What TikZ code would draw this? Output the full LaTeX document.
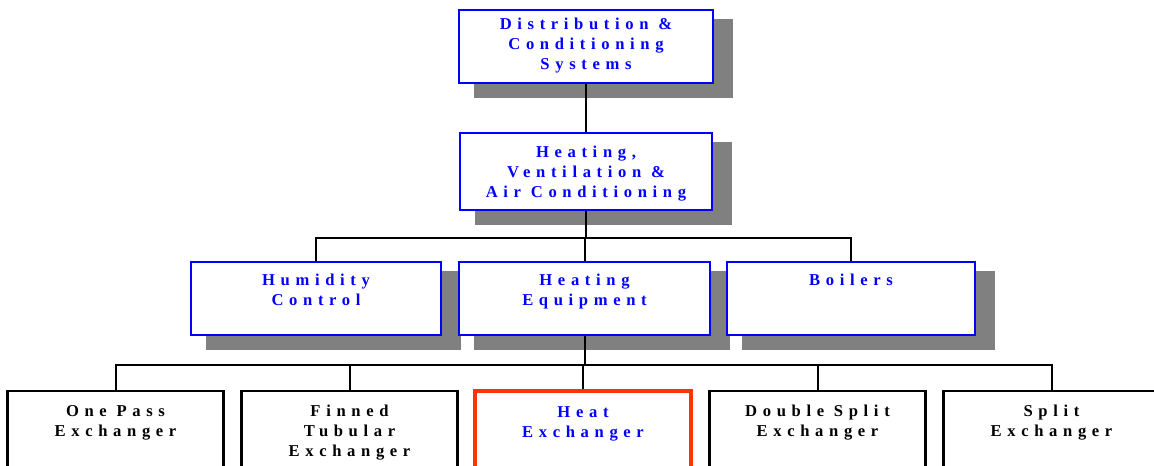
\documentclass[tikz,border=0pt]{standalone}
\usepackage{fontspec}
\setmainfont{Liberation Serif}
\newfontfamily\chartfont[LetterSpace=34]{Liberation Serif}
\usetikzlibrary{calc, positioning, backgrounds}
\definecolor{chBlue}{HTML}{0000FF}
\definecolor{chRed}{HTML}{FF3300}
\definecolor{chGrey}{HTML}{808080}
\tikzset{
  % one picture unit is one pixel of the chart, y grows downwards
  bluebox/.style  = {draw=chBlue, line width=1pt, fill=white, minimum width=#1},
  leafbox/.style  = {draw=black, line width=1.1pt, fill=white, minimum width=108pt, minimum height=50pt},
  markbox/.style  = {leafbox, draw=chRed, line width=1.6pt},
  lbl/.style      = {font=\chartfont\bfseries\fontsize{8.3}{10}\selectfont, align=center,
                     inner sep=0pt, anchor=north},
  bluelbl/.style  = {lbl, text=chBlue},
  shadowfill/.style = {fill=chGrey},
  link/.style     = {line width=1pt, black},
}

\begin{document}
\begin{tikzpicture}[x=0.5pt, y=-0.5pt]
  \useasboundingbox (0,0) rectangle (1154,465);
  % top two levels
  \node[bluebox=127pt, minimum height=36.5pt] (dcs) at (586,46.5) {};
  \node[bluebox=126pt, minimum height=38.5pt] (hvac) at (586,171.5) {};
  % third level
  \node[bluebox=125pt, minimum height=36.5pt] (humid) at (316,298.5) {};
  \node[bluebox=125.5pt, minimum height=36.5pt] (heatq) at (584.5,298.5) {};
  \node[bluebox=124pt, minimum height=36.5pt] (boil) at (851,298.5) {};
  % fourth level, cut by the page edge
  \node[leafbox] (onepass) at (115.5,441) {};
  \node[leafbox] (finned) at (349.5,441) {};
  \node[markbox] (heatx) at (583,441) {};
  \node[leafbox] (dsplit) at (817.5,441) {};
  \node[leafbox] (split) at (1051.5,441) {};
  % shadows
  \begin{scope}[on background layer]
    \foreach \b in {dcs,hvac,humid,heatq,boil}
      \fill[shadowfill] ($(\b.north west)+(16,10)$) rectangle ($(\b.south east)+(19,14)$);
  \end{scope}
  % labels
  \node[bluelbl] (dcs-t) at ($(dcs.north)+(0,9)$) {Distribution \&\\Conditioning\\Systems};
  \node[bluelbl] (hvac-t) at ($(hvac.north)+(0,14)$) {Heating,\\Ventilation \&\\Air Conditioning};
  \node[bluelbl] (humid-t) at ($(humid.north)+(0,13)$) {Humidity\\Control};
  \node[bluelbl] (heatq-t) at ($(heatq.north)+(0,13)$) {Heating\\Equipment};
  \node[bluelbl] (boil-t) at ($(boil.north)+(0,13)$) {Boilers};
  \node[lbl] (onepass-t) at ($(onepass.north)+(0,15)$) {One Pass\\Exchanger};
  \node[lbl] (finned-t) at ($(finned.north)+(0,15)$) {Finned\\Tubular\\Exchanger};
  \node[bluelbl] (heatx-t) at ($(heatx.north)+(0,17)$) {Heat\\Exchanger};
  \node[lbl] (dsplit-t) at ($(dsplit.north)+(0,15)$) {Double Split\\Exchanger};
  \node[lbl] (split-t) at ($(split.north)+(0,15)$) {Split\\Exchanger};
  % connectors
  \draw[link] (dcs.south) -- (hvac.north);
  \foreach \c in {humid,heatq,boil}
    \draw[link] (hvac.south) -- ++(0,27) -| (\c.north);
  \foreach \c in {onepass,finned,heatx,dsplit,split}
    \draw[link] (heatq.south) -- ++(0,29) -| (\c.north);
\end{tikzpicture}
\end{document}
